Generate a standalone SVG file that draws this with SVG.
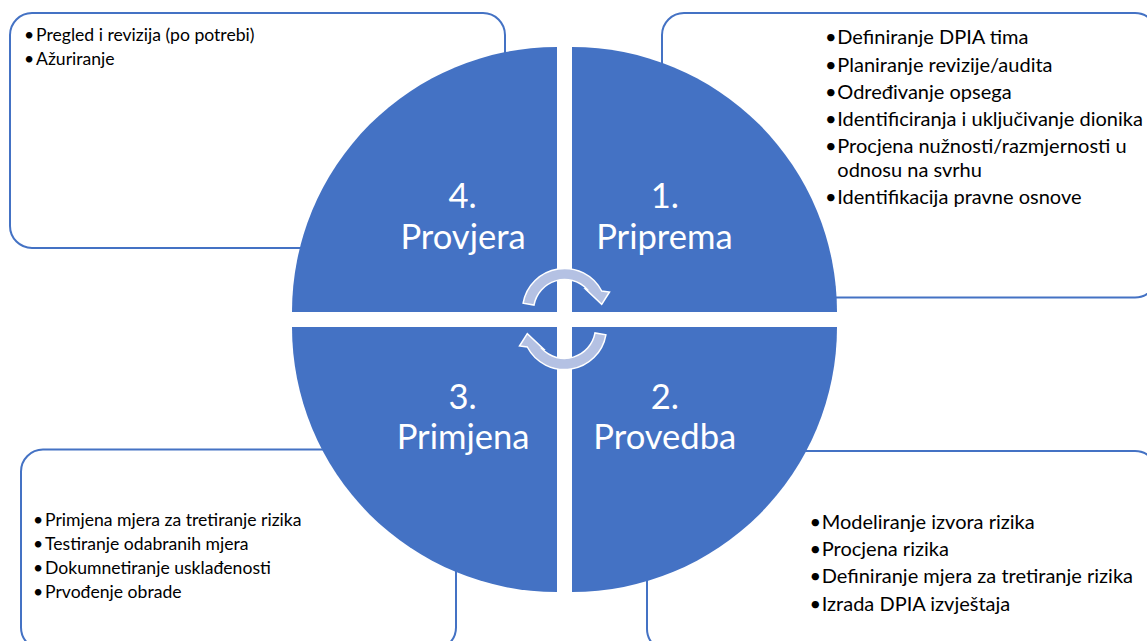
<svg xmlns="http://www.w3.org/2000/svg" width="1147" height="641" viewBox="0 0 1147 641">
<defs>
<style>
.box{fill:#FFFFFF;stroke:#4472C4;stroke-width:2}
.quad{fill:#4472C4}
.bt{font-family:Lato,"Open Sans","Liberation Sans",sans-serif;fill:#000000}
.s1{font-size:17.6px}
.s2{font-size:20px}
.big{font-family:Lato,"Open Sans","Liberation Sans",sans-serif;font-size:34.6px;fill:#FFFFFF;text-anchor:middle}
.arr{fill:#B4C1E3;stroke:#FFFFFF;stroke-width:1.5;stroke-linejoin:miter}
</style>
<path id="cycArrow" d="M523.1,303.2 A42,42 0 0 1 601.7,291.0 L609.5,292 L601.7,304.3 L585.5,289 L587.0,289.2 A31,31 0 0 0 534.0,305.1 Z"/>
</defs>
<rect width="1147" height="641" fill="#FFFFFF"/>

<g id="box-provjera">
<rect class="box" x="10" y="13" width="495" height="235" rx="22"/>
<text class="bt s1" x="24" y="41">•<tspan x="36">Pregled i revizija (po potrebi)</tspan></text>
<text class="bt s1" x="24" y="64.5">•<tspan x="36">Ažuriranje</tspan></text>
</g>

<g id="box-priprema">
<rect class="box" x="662" y="13" width="495" height="284.5" rx="22"/>
<text class="bt s2" x="825" y="44">•<tspan x="837.3">Definiranje DPIA tima</tspan></text>
<text class="bt s2" x="825" y="71.7">•<tspan x="837.3">Planiranje revizije/audita</tspan></text>
<text class="bt s2" x="825" y="99">•<tspan x="837.3">Određivanje opsega</tspan></text>
<text class="bt s2" x="825" y="126">•<tspan x="837.3">Identificiranja i uključivanje dionika</tspan></text>
<text class="bt s2" x="825" y="153">•<tspan x="837.3">Procjena nužnosti/razmjernosti u</tspan></text>
<text class="bt s2" x="837.3" y="176.7">odnosu na svrhu</text>
<text class="bt s2" x="825" y="204">•<tspan x="837.3">Identifikacija pravne osnove</tspan></text>
</g>

<g id="box-primjena">
<rect class="box" x="21" y="449.5" width="435" height="200" rx="22"/>
<text class="bt s1" x="33" y="526">•<tspan x="45">Primjena mjera za tretiranje rizika</tspan></text>
<text class="bt s1" x="33" y="550">•<tspan x="45">Testiranje odabranih mjera</tspan></text>
<text class="bt s1" x="33" y="574">•<tspan x="45">Dokumnetiranje usklađenosti</tspan></text>
<text class="bt s1" x="33" y="598">•<tspan x="45">Prvođenje obrade</tspan></text>
</g>

<g id="box-provedba">
<rect class="box" x="647" y="451" width="510" height="200" rx="22"/>
<text class="bt s2" x="809.5" y="529.3">•<tspan x="821.7">Modeliranje izvora rizika</tspan></text>
<text class="bt s2" x="809.5" y="556">•<tspan x="821.7">Procjena rizika</tspan></text>
<text class="bt s2" x="809.5" y="583.3">•<tspan x="821.7">Definiranje mjera za tretiranje rizika</tspan></text>
<text class="bt s2" x="809.5" y="610.7">•<tspan x="821.7">Izrada DPIA izvještaja</tspan></text>
</g>

<g id="q4-provjera">
<path class="quad" d="M557,312 L292,312 A265,265 0 0 1 557,47 Z"/>
<text class="big" x="462.6" y="208">4.</text>
<text class="big" x="463.1" y="249.3">Provjera</text>
</g>

<g id="q1-priprema">
<path class="quad" d="M572,312 L572,47 A265,265 0 0 1 837,312 Z"/>
<text class="big" x="664.8" y="208">1.</text>
<text class="big" x="664.4" y="249.3">Priprema</text>
</g>

<g id="q2-provedba">
<path class="quad" d="M572,327 L837,327 A265,265 0 0 1 572,592 Z"/>
<text class="big" x="664.8" y="409.3">2.</text>
<text class="big" x="664.8" y="449.3">Provedba</text>
</g>

<g id="q3-primjena">
<path class="quad" d="M557,327 L557,592 A265,265 0 0 1 292,327 Z"/>
<text class="big" x="462.6" y="409.3">3.</text>
<text class="big" x="463.1" y="449.3">Primjena</text>
</g>

<g id="connectors">
<use href="#cycArrow" class="arr"/>
<use href="#cycArrow" class="arr" transform="rotate(180 564.5 319)"/>
</g>
</svg>
